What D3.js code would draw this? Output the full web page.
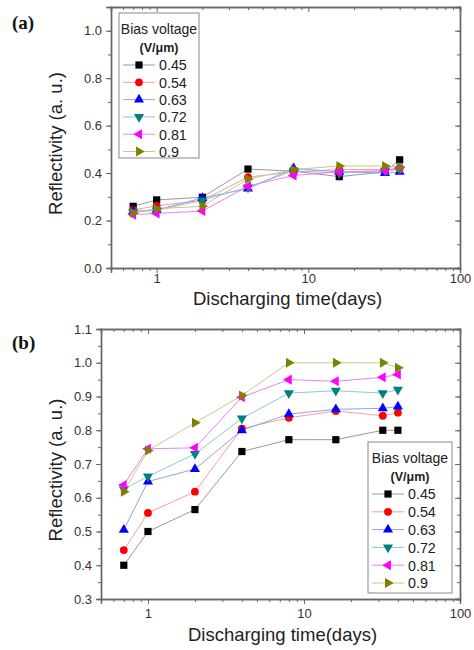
<!DOCTYPE html>
<meta charset="utf-8">
<style>
body { margin: 0; background: #fff; }
svg text { font-family: "Liberation Sans", Arial, sans-serif; }
.tick text { fill: #333; font-size: 13px; }
.axis path, .axis line { stroke: #666; }
.title { fill: #222; font-size: 18.5px; }
</style>
<body>
<script src="https://cdn.jsdelivr.net/npm/d3@7"></script>
<script>

// discharging time in days
var days = [0.7, 1, 2, 4, 8, 16, 32, 40];
var voltages = ["0.45", "0.54", "0.63", "0.72", "0.81", "0.9"];

// panel (a)
var a45 = [0.260, 0.287, 0.298, 0.417, 0.408, 0.385, 0.405, 0.456];
var a54 = [0.245, 0.262, 0.285, 0.383, 0.405, 0.415, 0.415, 0.420];
var a63 = [0.240, 0.245, 0.295, 0.335, 0.420, 0.405, 0.400, 0.405];
var a72 = [0.235, 0.243, 0.285, 0.340, 0.410, 0.400, 0.410, 0.415];
var a81 = [0.225, 0.230, 0.240, 0.345, 0.390, 0.405, 0.410, 0.420];
var a90 = [0.232, 0.250, 0.260, 0.375, 0.415, 0.430, 0.430, 0.425];

// panel (b)
var b45 = [0.400, 0.500, 0.565, 0.737, 0.772, 0.772, 0.800, 0.800];
var b54 = [0.445, 0.555, 0.618, 0.805, 0.837, 0.857, 0.843, 0.852];
var b63 = [0.505, 0.648, 0.685, 0.800, 0.848, 0.862, 0.865, 0.870];
var b72 = [0.625, 0.663, 0.730, 0.835, 0.910, 0.917, 0.910, 0.920];
var b81 = [0.638, 0.745, 0.748, 0.898, 0.950, 0.945, 0.957, 0.965];
var b90 = [0.618, 0.740, 0.822, 0.903, 1.000, 1.000, 1.000, 0.985];

var colors = ["#000000", "#ff0000", "#0000ff", "#008080", "#ff00ff", "#808000"];
var lineColors = ["#999999", "#f5a0a0", "#9a9af5", "#90c8c8", "#f080f0", "#c8c890"];
var rotations = [0, 0, 0, 180, -90, 90]; // triangle orientation

var svg = d3.select("body").append("svg")
    .attr("width", 474)
    .attr("height", 650);

function marker(g, i, x, y) {
    if (i == 0) {
        g.append("rect").attr("x", x - 3.6).attr("y", y - 3.6)
            .attr("width", 7.2).attr("height", 7.2).attr("fill", colors[i]);
    } else if (i == 1) {
        g.append("circle").attr("cx", x).attr("cy", y).attr("r", 3.9).attr("fill", colors[i]);
    } else {
        g.append("path")
            .attr("d", d3.symbol().type(d3.symbolTriangle).size(44)())
            .attr("transform", "translate(" + x + "," + y + ") rotate(" + rotations[i] + ")")
            .attr("fill", colors[i]);
    }
}

function drawPanel(p) {
    var x = d3.scaleLog().domain([0.5, 100]).range([p.left, p.right]);
    var y = d3.scaleLinear().domain(p.ydom).range([p.bottom, p.top]);
    var g = svg.append("g");

    // minor ticks
    var minorX = [];
    [0.1, 1, 10].forEach(function(d) {
        for (var k = 2; k <= 9; k++) { var v = d * k; if (v >= 0.5 && v < 100) minorX.push(v); }
    });
    var minorY = d3.range(p.ydom[0], p.ydom[1] + 1e-9, p.ystep / 2);

    g.append("g").attr("class", "axis")
        .attr("transform", "translate(0," + p.bottom + ")")
        .call(d3.axisBottom(x).tickValues(minorX).tickSize(3).tickFormat(""));
    g.append("g").attr("class", "axis")
        .attr("transform", "translate(" + p.left + ",0)")
        .call(d3.axisLeft(y).tickValues(minorY).tickSize(3).tickFormat(""));
    g.append("g").attr("class", "axis")
        .attr("transform", "translate(0," + p.top + ")")
        .call(d3.axisTop(x).tickValues(minorX).tickSize(-3).tickFormat(""));
    g.append("g").attr("class", "axis")
        .attr("transform", "translate(" + p.right + ",0)")
        .call(d3.axisRight(y).tickValues(minorY).tickSize(-3).tickFormat(""));

    // major ticks
    g.append("g").attr("class", "axis")
        .attr("transform", "translate(0," + p.bottom + ")")
        .call(d3.axisBottom(x).tickValues([1, 10, 100]).tickSize(5).tickPadding(p.xpad).tickFormat(d3.format("d")));
    g.append("g").attr("class", "axis")
        .attr("transform", "translate(" + p.left + ",0)")
        .call(d3.axisLeft(y).tickValues(p.yticks).tickSize(5).tickPadding(4).tickFormat(d3.format(".1f")));
    g.append("g").attr("class", "axis")
        .attr("transform", "translate(0," + p.top + ")")
        .call(d3.axisTop(x).tickValues([1, 10, 100]).tickSize(-5).tickFormat(""));
    g.append("g").attr("class", "axis")
        .attr("transform", "translate(" + p.right + ",0)")
        .call(d3.axisRight(y).tickValues(p.yticks).tickSize(-5).tickFormat(""));

    g.selectAll(".axis .domain").attr("stroke-width", 1.4);

    // data lines + markers
    p.series.forEach(function(s, i) {
        var line = d3.line()
            .x(function(d, j) { return x(days[j]); })
            .y(function(d) { return y(d); });
        g.append("path").datum(s)
            .attr("d", line)
            .attr("fill", "none")
            .attr("stroke", lineColors[i])
            .attr("stroke-width", 1);
    });
    p.series.forEach(function(s, i) {
        s.forEach(function(d, j) { marker(g, i, x(days[j]), y(d)); });
    });

    // titles
    g.append("text").attr("class", "title")
        .attr("x", (p.left + p.right) / 2 + 2)
        .attr("y", p.bottom + p.xtitleGap)
        .attr("text-anchor", "middle")
        .text("Discharging time(days)");
    g.append("text").attr("class", "title")
        .attr("transform", "translate(" + 62 + "," + ((p.top + p.bottom) / 2 + 6) + ") rotate(-90)")
        .attr("text-anchor", "middle")
        .text("Reflectivity (a. u.)");
    g.append("text")
        .attr("x", 12).attr("y", p.labelY)
        .style("font-family", "'Liberation Serif', 'Times New Roman', serif")
        .attr("font-weight", "bold").attr("font-size", 19).attr("fill", "#111")
        .text(p.label);

    // legend
    var L = p.legend;
    g.append("rect").attr("x", L.x).attr("y", L.y)
        .attr("width", L.w).attr("height", L.h)
        .attr("fill", "#fff").attr("stroke", "#888").attr("stroke-width", 1);
    g.append("text").attr("x", L.x + L.w / 2).attr("y", L.y + 21)
        .attr("text-anchor", "middle").attr("font-size", 14).attr("fill", "#222")
        .text("Bias voltage");
    g.append("text").attr("x", L.x + L.w / 2).attr("y", L.y + 39)
        .attr("text-anchor", "middle").attr("font-size", 12.5).attr("font-weight", "bold").attr("fill", "#222")
        .text("(V/μm)");
    voltages.forEach(function(v, i) {
        var yy = L.y + 52 + i * L.dy;
        g.append("line").attr("x1", L.x + 4).attr("x2", L.x + 36)
            .attr("y1", yy).attr("y2", yy)
            .attr("stroke", lineColors[i]).attr("stroke-width", 1);
        marker(g, i, L.x + 20, yy);
        g.append("text").attr("x", L.x + 40).attr("y", yy + 5.3)
            .attr("font-size", 14.3).attr("fill", "#222")
            .text(v);
    });
}

drawPanel({
    label: "(a)", labelY: 29, left: 111, right: 460, top: 7, bottom: 268, xtitleGap: 37, xpad: 1,
    ydom: [0, 1.1], ystep: 0.2, yticks: [0, 0.2, 0.4, 0.6, 0.8, 1.0],
    series: [a45, a54, a63, a72, a81, a90],
    legend: { x: 119, y: 13, w: 80, h: 145, dy: 17.3 }
});

drawPanel({
    label: "(b)", labelY: 349, left: 101, right: 460, top: 329, bottom: 599, xtitleGap: 42, xpad: 5,
    ydom: [0.3, 1.1], ystep: 0.1, yticks: d3.range(0.3, 1.1001, 0.1),
    series: [b45, b54, b63, b72, b81, b90],
    legend: { x: 368, y: 442, w: 84, h: 151, dy: 17.8 }
});

</script>
</body>
